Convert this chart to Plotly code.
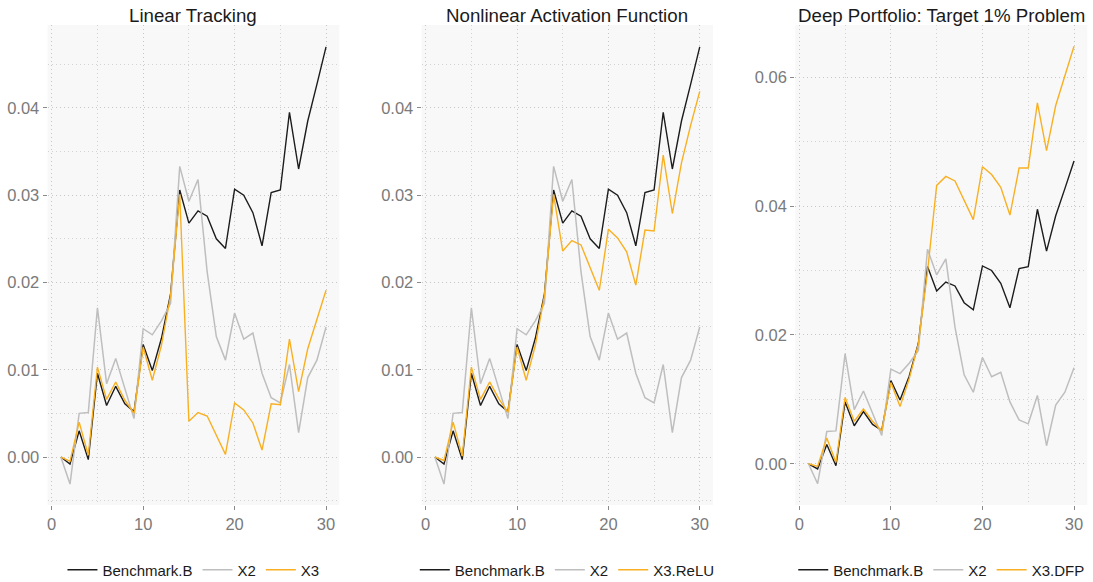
import plotly.graph_objects as go

periods = [1, 2, 3, 4, 5, 6, 7, 8, 9, 10, 11, 12, 13, 14, 15,
           16, 17, 18, 19, 20, 21, 22, 23, 24, 25, 26, 27, 28, 29, 30]

benchmark_b = [0.0000, -0.0008, 0.0030, -0.0003, 0.0096, 0.0059, 0.0081, 0.0061, 0.0052, 0.0129,
               0.0099, 0.0136, 0.0187, 0.0306, 0.0268, 0.0282, 0.0276, 0.0250, 0.0239, 0.0307,
               0.0300, 0.0280, 0.0242, 0.0303, 0.0306, 0.0395, 0.0330, 0.0385, 0.0427, 0.0470]

x2 = [0.0000, -0.0031, 0.0050, 0.0051, 0.0171, 0.0084, 0.0113, 0.0078, 0.0044, 0.0147,
      0.0140, 0.0156, 0.0176, 0.0333, 0.0293, 0.0318, 0.0212, 0.0138, 0.0111, 0.0165,
      0.0135, 0.0142, 0.0096, 0.0068, 0.0062, 0.0106, 0.0028, 0.0091, 0.0111, 0.0149]

x3_linear = [0.0000, -0.0005, 0.0040, 0.0002, 0.0103, 0.0066, 0.0086, 0.0065, 0.0050, 0.0126,
             0.0088, 0.0128, 0.0185, 0.0301, 0.0041, 0.0051, 0.0047, 0.0025, 0.0003, 0.0062,
             0.0054, 0.0039, 0.0008, 0.0061, 0.0060, 0.0135, 0.0075, 0.0124, 0.0158, 0.0191]

x3_relu = [0.0000, -0.0004, 0.0040, 0.0001, 0.0103, 0.0066, 0.0086, 0.0067, 0.0051, 0.0126,
           0.0088, 0.0128, 0.0185, 0.0301, 0.0236, 0.0248, 0.0243, 0.0218, 0.0191, 0.0261,
           0.0251, 0.0235, 0.0197, 0.0260, 0.0259, 0.0346, 0.0279, 0.0337, 0.0380, 0.0419]

x3_dfp = [0.0000, -0.0004, 0.0040, 0.0002, 0.0103, 0.0066, 0.0085, 0.0066, 0.0051, 0.0126,
          0.0089, 0.0132, 0.0186, 0.0298, 0.0432, 0.0446, 0.0439, 0.0409, 0.0379, 0.0461,
          0.0449, 0.0429, 0.0386, 0.0459, 0.0459, 0.0560, 0.0486, 0.0556, 0.0603, 0.0648]

panel_titles = ["Linear Tracking", "Nonlinear Activation Function", "Deep Portfolio: Target 1% Problem"]
third_names = ["X3", "X3.ReLU", "X3.DFP"]
third_series = [x3_linear, x3_relu, x3_dfp]

C_BLACK = "#1c1c1c"
C_GRAY = "#bebebe"
C_ORANGE = "#f8b022"

W, H = 1093, 582
PLOT_TOP, PLOT_BOT = 25, 505
M_T, M_B = PLOT_TOP, H - PLOT_BOT
panel_px = [(47.6, 339.3), (421.6, 713.0), (795.2, 1087.3)]
domains = [(a / W, b / W) for a, b in panel_px]
y_ranges = [(-0.0055, 0.0495), (-0.0055, 0.0495), (-0.0064, 0.0681)]
y_dticks = [0.01, 0.01, 0.02]

fig = go.Figure()
legend_ids = ["legend", "legend2", "legend3"]

for i in range(3):
    xa = "x" if i == 0 else f"x{i+1}"
    ya = "y" if i == 0 else f"y{i+1}"
    lg = legend_ids[i]
    fig.add_trace(go.Scatter(x=periods, y=benchmark_b, mode="lines", name="Benchmark.B",
                             line=dict(color=C_BLACK, width=1.4), xaxis=xa, yaxis=ya,
                             legend=lg, legendrank=1))
    fig.add_trace(go.Scatter(x=periods, y=x2, mode="lines", name="X2",
                             line=dict(color=C_GRAY, width=1.5), xaxis=xa, yaxis=ya,
                             legend=lg, legendrank=2))
    fig.add_trace(go.Scatter(x=periods, y=third_series[i], mode="lines", name=third_names[i],
                             line=dict(color=C_ORANGE, width=1.4), xaxis=xa, yaxis=ya,
                             legend=lg, legendrank=3))

layout = dict(
    width=W, height=H,
    margin=dict(l=0, r=0, t=M_T, b=M_B, autoexpand=False),
    paper_bgcolor="white",
    plot_bgcolor="#f8f8f8",
    font=dict(family="Liberation Sans, Arial, sans-serif", size=14, color="#7a7a7a"),
    showlegend=True,
)

grid_c = "#c6c6c6"
minor_c = "#d2d2d2"
dotpat = "1px,3px"
for i in range(3):
    xk = "xaxis" if i == 0 else f"xaxis{i+1}"
    yk = "yaxis" if i == 0 else f"yaxis{i+1}"
    layout[xk] = dict(
        domain=list(domains[i]), range=[-0.45, 31.45],
        anchor="y" if i == 0 else f"y{i+1}",
        tickmode="linear", tick0=0, dtick=10, ticks="outside", ticklen=4, tickcolor="#8a8a8a",
        showgrid=True, gridcolor=grid_c, griddash=dotpat, gridwidth=1,
        minor=dict(dtick=5, tick0=0, showgrid=True, gridcolor=minor_c, griddash=dotpat, gridwidth=1),
        zeroline=False, showline=False, automargin=False,
        tickfont=dict(size=16.5, color="#7a7a7a"),
    )
    layout[yk] = dict(
        domain=[0, 1], range=list(y_ranges[i]), anchor="x" if i == 0 else f"x{i+1}",
        tickmode="linear", tick0=0, dtick=y_dticks[i], tickformat=".2f",
        ticks="outside", ticklen=4, tickcolor="#8a8a8a",
        showgrid=True, gridcolor=grid_c, griddash=dotpat, gridwidth=1,
        minor=dict(dtick=y_dticks[i] / 2, tick0=0, showgrid=True, gridcolor=minor_c,
                   griddash=dotpat, gridwidth=1),
        zeroline=False, showline=False, automargin=False,
        tickfont=dict(size=16.5, color="#7a7a7a"),
    )
    layout[legend_ids[i]] = dict(
        orientation="h", x=(domains[i][0] + domains[i][1]) / 2, xanchor="center",
        y=(H - 570) / H, yanchor="middle", xref="paper", yref="container",
        font=dict(size=15, color="#1a1a1a"), bgcolor="rgba(0,0,0,0)",
        itemwidth=30, tracegroupgap=0,
    )

fig.update_layout(**layout)

for i in range(3):
    fig.add_annotation(
        text=panel_titles[i], xref="paper", yref="paper",
        x=(domains[i][0] + domains[i][1]) / 2, y=1.0 + 10 / (PLOT_BOT - PLOT_TOP),
        xanchor="center", yanchor="middle", showarrow=False,
        font=dict(size=18.7, color="#1a1a1a"),
    )

fig.write_html("out.html",
               config={"displayModeBar": False},
               post_script="document.body.style.margin='0';document.body.style.padding='0';")
